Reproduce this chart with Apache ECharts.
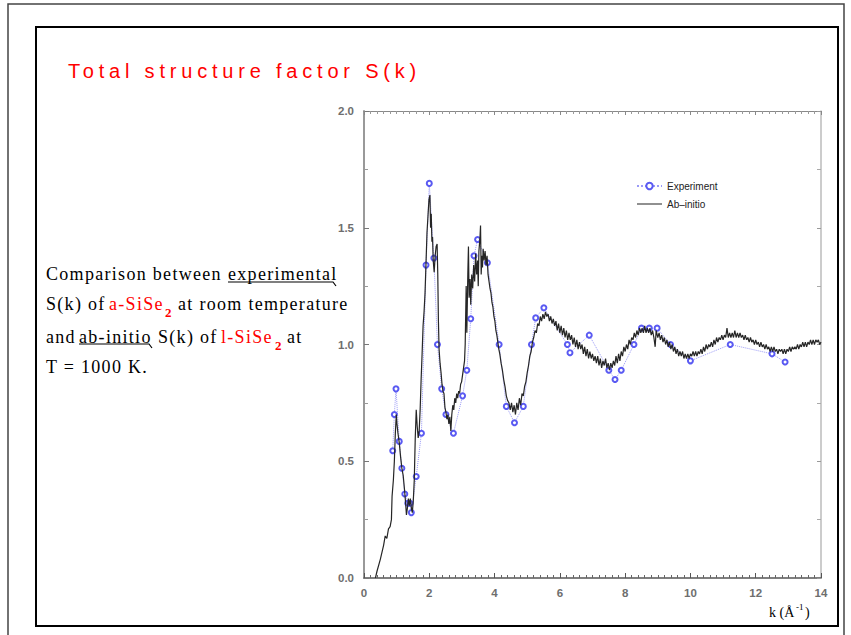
<!DOCTYPE html>
<html>
<head>
<meta charset="utf-8">
<script src="https://cdn.jsdelivr.net/npm/echarts@6/dist/echarts.min.js"></script>
<style>
  html, body { margin: 0; padding: 0; background: #fff; }
  #chart { width: 851px; height: 635px; }
  text[style*="Liberation Serif"] { letter-spacing: 1.3px; }
  text[style*="Liberation Sans"] { letter-spacing: 4.8px; }
</style>
</head>
<body>
<div id="chart"></div>
<script>
// ---- data ----
const titleText = 'Total structure factor S(k)';
const seriesNames = ['Experiment', 'Ab\u2013initio'];
const yTickLabels = ['0.0', '0.5', '1.0', '1.5', '2.0'];
const xTickLabels = ['0', '2', '4', '6', '8', '10', '12', '14'];

// Experiment: [k, S(k)]
const experiment = [
  [0.88,0.545],[0.93,0.70],[0.98,0.81],[1.08,0.585],[1.16,0.47],[1.25,0.36],[1.34,0.32],[1.41,0.32],[1.45,0.28],
  [1.60,0.435],[1.76,0.62],[1.90,1.34],[2.00,1.69],[2.14,1.37],[2.25,1.0],[2.38,0.81],[2.51,0.70],[2.74,0.62],
  [3.02,0.78],[3.15,0.89],[3.27,1.11],[3.37,1.38],[3.48,1.45],[3.78,1.35],[4.14,1.0],[4.36,0.735],[4.61,0.665],
  [4.88,0.735],[5.13,1.0],[5.26,1.114],[5.51,1.157],[6.23,1.0],[6.31,0.965],[6.90,1.04],[7.50,0.89],[7.69,0.85],
  [7.88,0.89],[8.27,1.0],[8.50,1.07],[8.74,1.07],[8.98,1.07],[9.39,1.0],[10.0,0.93],[11.22,1.0],[12.5,0.96],[12.9,0.925]
];

// Ab-initio: [k, S(k)]
const abInitio = [
  [0.35,0],[0.4,0.03],[0.5,0.08],[0.6,0.14],[0.65,0.18],[0.7,0.17],[0.75,0.21],[0.8,0.22],[0.84,0.25],[0.86,0.35],
  [0.9,0.42],[0.93,0.5],[0.96,0.62],[0.99,0.70],[1.01,0.66],[1.04,0.62],[1.08,0.58],[1.12,0.52],[1.16,0.47],[1.2,0.44],
  [1.24,0.38],[1.27,0.33],[1.3,0.27],[1.33,0.3],[1.36,0.34],[1.39,0.31],[1.42,0.34],[1.45,0.3],[1.48,0.28],[1.51,0.33],
  [1.54,0.42],[1.57,0.6],[1.6,0.72],[1.63,0.65],[1.66,0.6],[1.69,0.63],[1.72,0.72],[1.75,0.85],[1.78,0.96],[1.81,1.08],
  [1.84,1.14],[1.87,1.22],[1.9,1.35],[1.93,1.48],[1.96,1.55],[1.99,1.62],[2.02,1.64],[2.04,1.5],[2.06,1.56],[2.08,1.44],
  [2.1,1.46],[2.12,1.36],[2.15,1.31],[2.18,1.38],[2.21,1.42],[2.24,1.43],[2.26,1.3],[2.28,1.1],[2.3,0.98],[2.33,0.92],
  [2.36,0.88],[2.39,0.83],[2.42,0.8],[2.45,0.79],[2.48,0.73],[2.51,0.71],[2.54,0.68],[2.57,0.7],[2.6,0.66],[2.63,0.69],
  [2.66,0.63],[2.69,0.7],[2.72,0.74],[2.75,0.72],[2.78,0.77],[2.81,0.75],[2.84,0.79],[2.87,0.77],[2.9,0.8],[2.93,0.79],
  [2.96,0.83],[2.99,0.84],[3.02,0.87],[3.05,0.9],[3.08,0.93],[3.1,1.0],[3.13,1.25],[3.15,1.05],[3.18,1.3],[3.2,1.42],
  [3.22,1.2],[3.25,1.28],[3.27,1.17],[3.3,1.3],[3.33,1.24],[3.36,1.34],[3.39,1.27],[3.42,1.39],[3.45,1.3],[3.48,1.36],
  [3.5,1.25],[3.52,1.4],[3.55,1.45],[3.57,1.51],[3.59,1.3],[3.61,1.38],[3.63,1.33],[3.65,1.41],[3.68,1.36],[3.71,1.4],
  [3.74,1.34],[3.77,1.38],[3.8,1.3],[3.83,1.27],[3.86,1.24],[3.89,1.22],[3.92,1.18],[3.95,1.16],[3.98,1.12],[4.01,1.1],
  [4.04,1.06],[4.07,1.04],[4.1,1.01],[4.13,0.98],[4.16,0.96],[4.2,0.92],[4.24,0.89],[4.28,0.85],[4.32,0.82],[4.36,0.78],
  [4.4,0.76],[4.44,0.75],[4.48,0.72],[4.52,0.75],[4.56,0.71],[4.6,0.74],[4.64,0.7],[4.68,0.75],[4.72,0.72],[4.76,0.77],
  [4.8,0.74],[4.84,0.79],[4.88,0.78],[4.92,0.82],[4.96,0.84],[5.0,0.88],[5.04,0.91],[5.08,0.95],[5.12,0.97],[5.16,1.01],
  [5.2,1.03],[5.24,1.06],[5.28,1.05],[5.32,1.09],[5.36,1.08],[5.4,1.12],[5.44,1.1],[5.48,1.13],[5.52,1.11],[5.56,1.14],
  [5.6,1.12],[5.64,1.13],[5.68,1.1],[5.72,1.12],[5.76,1.09],[5.8,1.11],[5.84,1.08],[5.88,1.1],[5.92,1.06],[5.96,1.09],
  [6.0,1.05],[6.04,1.08],[6.08,1.04],[6.12,1.07],[6.16,1.03],[6.2,1.06],[6.24,1.02],[6.28,1.05],[6.32,1.02],[6.36,1.04],
  [6.4,1.0],[6.44,1.03],[6.48,0.99],[6.52,1.02],[6.56,0.98],[6.6,1.01],[6.64,0.98],[6.68,1.0],[6.72,0.96],[6.76,0.99],
  [6.8,0.95],[6.84,0.98],[6.88,0.94],[6.92,0.97],[6.96,0.94],[7.0,0.96],[7.04,0.93],[7.08,0.95],[7.12,0.92],[7.16,0.95],
  [7.2,0.91],[7.24,0.94],[7.28,0.9],[7.32,0.93],[7.36,0.91],[7.4,0.94],[7.44,0.9],[7.48,0.92],[7.52,0.89],[7.56,0.92],
  [7.6,0.9],[7.64,0.93],[7.68,0.91],[7.72,0.95],[7.76,0.92],[7.8,0.96],[7.84,0.93],[7.88,0.97],[7.92,0.95],[7.96,0.99],
  [8.0,0.97],[8.04,1.0],[8.08,0.98],[8.12,1.02],[8.16,1.0],[8.2,1.03],[8.24,1.02],[8.28,1.05],[8.32,1.03],[8.36,1.06],
  [8.4,1.04],[8.44,1.07],[8.48,1.05],[8.52,1.07],[8.56,1.05],[8.6,1.08],[8.64,1.05],[8.68,1.07],[8.72,1.05],[8.76,1.07],
  [8.8,1.04],[8.84,1.06],[8.88,1.03],[8.92,0.99],[8.95,1.06],[9.0,1.03],[9.04,1.05],[9.08,1.02],[9.12,1.04],[9.16,1.01],
  [9.2,1.03],[9.24,1.0],[9.28,1.02],[9.32,0.99],[9.36,1.01],[9.4,0.98],[9.44,1.0],[9.48,0.97],[9.52,0.99],[9.56,0.96],
  [9.6,0.98],[9.64,0.95],[9.68,0.97],[9.72,0.95],[9.76,0.97],[9.8,0.94],[9.84,0.96],[9.88,0.94],[9.92,0.96],[9.96,0.94],
  [10.0,0.96],[10.04,0.95],[10.08,0.97],[10.12,0.95],[10.16,0.97],[10.2,0.95],[10.24,0.97],[10.28,0.96],[10.32,0.98],[10.36,0.96],
  [10.4,0.99],[10.44,0.97],[10.48,1.0],[10.52,0.98],[10.56,1.0],[10.6,0.99],[10.64,1.01],[10.68,0.99],[10.72,1.02],[10.76,1.0],
  [10.8,1.03],[10.84,1.01],[10.88,1.03],[10.92,1.02],[10.96,1.04],[11.0,1.02],[11.04,1.04],[11.08,1.03],[11.12,1.07],[11.16,1.03],
  [11.2,1.05],[11.24,1.03],[11.28,1.05],[11.32,1.03],[11.36,1.06],[11.4,1.03],[11.44,1.05],[11.48,1.03],[11.52,1.05],[11.56,1.03],
  [11.6,1.04],[11.64,1.02],[11.68,1.04],[11.72,1.02],[11.76,1.03],[11.8,1.01],[11.84,1.03],[11.88,1.01],[11.92,1.02],[11.96,1.0],
  [12.0,1.02],[12.04,1.0],[12.08,1.01],[12.12,0.99],[12.16,1.01],[12.2,0.99],[12.24,1.0],[12.28,0.98],[12.32,1.0],[12.36,0.98],
  [12.4,0.99],[12.44,0.97],[12.48,0.99],[12.52,0.97],[12.56,0.99],[12.6,0.97],[12.64,0.98],[12.68,0.96],[12.72,0.98],[12.76,0.97],
  [12.8,0.98],[12.84,0.96],[12.88,0.98],[12.92,0.96],[12.96,0.98],[13.0,0.97],[13.04,0.99],[13.08,0.97],[13.12,0.99],[13.16,0.98],
  [13.2,0.99],[13.24,0.98],[13.28,1.0],[13.32,0.98],[13.36,1.0],[13.4,0.99],[13.44,1.01],[13.48,0.99],[13.52,1.01],[13.56,0.99],
  [13.6,1.01],[13.64,1.0],[13.68,1.02],[13.72,1.0],[13.76,1.02],[13.8,1.0],[13.84,1.02],[13.88,1.01],[13.92,1.02],[13.96,1.0],
  [14.0,1.01]
];

// ---- chart ----
const chart = echarts.init(document.getElementById('chart'), null, { renderer: 'svg' });

const serif = "18px 'Liberation Serif'";
const serifSub = "bold 13px 'Liberation Serif'";
function t(x, y, text, font, fill) {
  return { type: 'text', x: x, y: y, z: 10,
    style: { text: text, font: font, fill: fill || '#000', verticalAlign: 'middle', align: 'left' } };
}

const axisFontLabel = { color: '#6e6e6e', fontWeight: 'bold', fontSize: 11.5, fontFamily: 'Arial' };

chart.setOption({
  animation: false,
  backgroundColor: '#fff',
  title: {
    text: titleText, left: 68, top: 61, padding: 0,
    textStyle: { color: '#ff0000', fontSize: 20, fontWeight: 'normal', fontFamily: 'Liberation Sans' }
  },
  legend: {
    data: [
      { name: seriesNames[0] },
      { name: seriesNames[1], icon: 'path://M0,0L0.01,0L0.01,0.01Z M0,3.5L25,3.5L25,4.5L0,4.5Z M0,8L0.01,8L0.01,7.99Z' }
    ],
    orient: 'vertical', left: 631, top: 176, itemWidth: 25, itemHeight: 8, itemGap: 8,
    textStyle: { color: '#222', fontSize: 10, fontFamily: 'Arial' }
  },
  grid: { left: 364, top: 111, width: 457, height: 467, containLabel: false },
  xAxis: [
    {
      type: 'value', min: 0, max: 14, interval: 2, position: 'bottom',
      axisLine: { show: true, onZero: false, lineStyle: { color: '#555', width: 1.5 } },
      axisTick: { show: true, inside: true, length: 5, lineStyle: { color: '#555' } },
      minorTick: { show: true, splitNumber: 10, length: 3, lineStyle: { color: '#666' } },
      axisLabel: Object.assign({ margin: 9, formatter: v => xTickLabels[Math.round(v / 2)] }, axisFontLabel),
      splitLine: { show: false }
    },
    {
      type: 'value', min: 0, max: 14, interval: 2, position: 'top',
      axisLine: { show: true, onZero: false, lineStyle: { color: '#888', width: 1.2 } },
      axisTick: { show: true, inside: true, length: 4, lineStyle: { color: '#888' } },
      minorTick: { show: true, splitNumber: 10, length: 3, lineStyle: { color: '#999' } },
      axisLabel: { show: false },
      splitLine: { show: false }
    }
  ],
  yAxis: [
    {
      type: 'value', min: 0, max: 2, interval: 0.5, position: 'left',
      axisLine: { show: true, onZero: false, lineStyle: { color: '#999', width: 2 } },
      axisTick: { show: true, inside: true, length: 5, lineStyle: { color: '#777' } },
      minorTick: { show: true, splitNumber: 2, length: 4, lineStyle: { color: '#999' } },
      axisLabel: Object.assign({ margin: 10, formatter: v => yTickLabels[Math.round(v / 0.5)] }, axisFontLabel),
      splitLine: { show: false }
    },
    {
      type: 'value', min: 0, max: 2, interval: 0.5, position: 'right',
      axisLine: { show: true, onZero: false, lineStyle: { color: '#bbb', width: 1.5 } },
      axisTick: { show: true, inside: true, length: 4, lineStyle: { color: '#999' } },
      minorTick: { show: true, splitNumber: 2, length: 4, lineStyle: { color: '#aaa' } },
      axisLabel: { show: false },
      splitLine: { show: false }
    }
  ],
  series: [
    {
      name: seriesNames[0], type: 'line', data: experiment, xAxisIndex: 0, yAxisIndex: 0,
      symbol: 'emptyCircle', symbolSize: 5, showSymbol: true,
      itemStyle: { color: '#5a5af2', borderWidth: 1 },
      lineStyle: { color: '#9a9af7', width: 1, type: 'dotted' },
      z: 2
    },
    {
      name: seriesNames[1], type: 'line', data: abInitio, xAxisIndex: 0, yAxisIndex: 0,
      showSymbol: false, symbol: 'none',
      itemStyle: { color: '#222' },
      lineStyle: { color: '#262626', width: 1.2 },
      z: 3
    }
  ],
  graphic: [
    { type: 'rect', z: 1, shape: { x: 8, y: 4, width: 836, height: 700 },
      style: { fill: 'none', stroke: '#444', lineWidth: 1.5 } },
    { type: 'rect', z: 1, shape: { x: 36, y: 27, width: 802, height: 599 },
      style: { fill: 'none', stroke: '#000', lineWidth: 2 } },
    // paragraph
    t(46, 274, 'Comparison between', serif),
    t(228, 274, 'experimental', serif),
    { type: 'polyline', z: 10, shape: { points: [[228, 282], [333, 282], [336, 286]] },
      style: { stroke: '#000', lineWidth: 1.2, fill: 'none' } },
    t(46, 304, 'S(k) of', serif),
    t(109, 304, 'a-SiSe', serif, '#ff0000'),
    t(165, 312, '2', serifSub, '#ff0000'),
    t(178, 304, 'at room temperature', serif),
    t(46, 337, 'and', serif),
    t(79, 337, 'ab-initio', serif),
    { type: 'polyline', z: 10, shape: { points: [[79, 344], [149, 344], [152, 348]] },
      style: { stroke: '#000', lineWidth: 1.2, fill: 'none' } },
    t(158, 337, 'S(k) of', serif),
    t(221, 337, 'l-SiSe', serif, '#ff0000'),
    t(275, 345, '2', serifSub, '#ff0000'),
    t(287, 337, 'at', serif),
    t(46, 367, 'T = 1000 K.', serif),
    // x axis title
    t(769, 612, 'k (\u00C5', "14px 'Times New Roman'"),
    t(796, 607, '-1', "9px 'Times New Roman'"),
    t(805, 612, ')', "14px 'Times New Roman'")
  ]
});
</script>
</body>
</html>
